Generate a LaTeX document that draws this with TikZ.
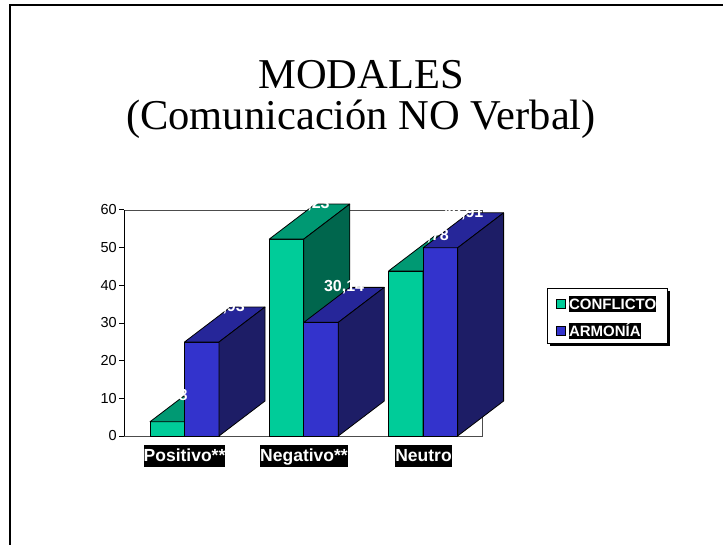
\documentclass[tikz,border=0pt]{standalone}
\usepackage{fontspec}
\setmainfont{Liberation Serif}
\setsansfont{Liberation Sans}
\usetikzlibrary{positioning}

\definecolor{confFront}{RGB}{0,204,153}
\definecolor{confTop}{RGB}{0,153,115}
\definecolor{confSide}{RGB}{0,102,77}
\definecolor{armFront}{RGB}{51,51,204}
\definecolor{armTop}{RGB}{38,38,153}
\definecolor{armSide}{RGB}{29,29,102}

% 3D bar: #1 left x, #2 value, #3 colour prefix, #4 name
\newcommand{\barra}[4]{%
  \pgfmathsetmacro{\yt}{436-#2*3.77}
  \filldraw[cara,fill=#3Front] (#1,436) rectangle (#1+34.5,\yt);
  \filldraw[cara,fill=#3Top] (#1,\yt) -- ++(34.5,0) -- ++(46,-35) -- ++(-34.5,0) -- cycle;
  \filldraw[cara,fill=#3Side] (#1+34.5,436) -- (#1+34.5,\yt) -- ++(46,-35) -- (#1+80.5,401) -- cycle;
  \coordinate (#4) at (#1+40.25,\yt-35);
}

\begin{document}
\begin{tikzpicture}[x=1pt,y=-1pt,
	cara/.style={draw=black,line width=0.8pt,line join=round},
	titulos/.style={anchor=base,inner sep=0pt,
		font=\rmfamily\fontsize{42.5}{48}\selectfont},
	valor/.style={text=white,inner sep=0pt,
		font=\sffamily\bfseries\fontsize{16}{16}\selectfont},
	eje/.style={anchor=east,inner sep=0pt,
		font=\sffamily\fontsize{14.5}{14.5}\selectfont},
	categoria/.style={fill=black,text=white,inner xsep=0pt,inner ysep=1pt,
		text height=15.5pt,text depth=4.5pt,
		font=\sffamily\bfseries\fontsize{17.5}{17.5}\selectfont},
	muestra/.style={draw=black,line width=0.6pt,minimum size=9pt,inner sep=0pt},
	leyenda/.style={fill=black,text=white,inner xsep=0pt,inner ysep=0.5pt,
		text height=13pt,text depth=2.5pt,
		font=\sffamily\bfseries\fontsize{15}{15}\selectfont}
]
\useasboundingbox (0,0) rectangle (723,544);
\draw[line width=2pt] (10,560) -- (10,5) -- (740,5);

% title
\node[titulos] (titulo) at (361,88) {MODALES};
\node[titulos] (subtitulo) at (361,129) {(Comunicación NO Verbal)};

% plot area and axis
\draw[gray!60!black,line width=1pt] (124,210) rectangle (482,436);
\draw[line width=1pt] (124,210) -- (124,436);
\foreach \v in {0,10,...,60}{
	\draw[line width=0.8pt] (119,{436-\v*3.77}) -- (124,{436-\v*3.77});
	\node[eje] (y\v) at (117,{436-\v*3.77}) {\v};
}

% bars
\barra{150}{3.78}{conf}{pc}
\barra{184.5}{24.93}{arm}{pa}
\barra{269.3}{52.23}{conf}{nc}
\barra{303.8}{30.14}{arm}{na}
\barra{388.6}{43.78}{conf}{uc}
\barra{423.1}{49.91}{arm}{ua}

% value labels
\node[valor] (vpc) at (172,396) {3,78};
\node[valor] (vpa) at (pa) {24,93};
\node[valor] (vnc) at (nc) {52,23};
\node[valor] (vna) at (na) {30,14};
\node[valor] (vuc) at (uc) {43,78};
\node[valor] (vua) at (ua) {49,91};

% categories
\node[categoria] (positivo) at (184.5,456) {Positivo**};
\node[categoria] (negativo) at (304,456) {Negativo**};
\node[categoria] (neutro) at (423.5,456) {Neutro};

% legend
\fill[black] (549.5,290.5) rectangle (669.5,345.5);
\filldraw[fill=white,draw=black,line width=0.8pt] (547,288) rectangle (667,343);
\node[muestra,fill=confFront] (mconf) at (561,304) {};
\node[muestra,fill=armFront] (marm) at (561,331) {};
\node[leyenda,right=3pt of mconf] (lconf) {CONFLICTO};
\node[leyenda,right=3pt of marm] (larm) {ARMONÍA};
\end{tikzpicture}
\end{document}
